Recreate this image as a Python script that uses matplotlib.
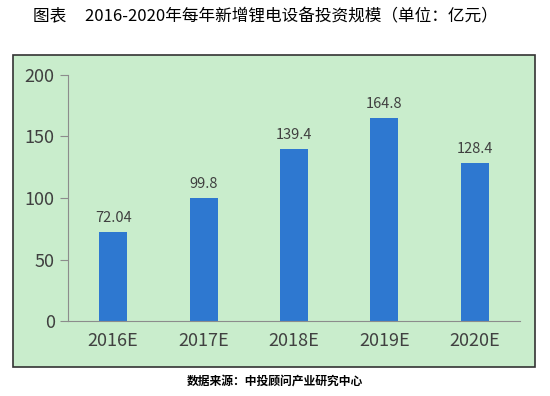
import matplotlib.pyplot as plt
from matplotlib.patches import Rectangle

plt.rcParams['font.family'] = ['Noto Sans CJK SC', 'DejaVu Sans']

years = ["2016E", "2017E", "2018E", "2019E", "2020E"]
values = [72.04, 99.8, 139.4, 164.8, 128.4]
labels = ["72.04", "99.8", "139.4", "164.8", "128.4"]

fig = plt.figure(figsize=(5.5, 3.96), dpi=100)
fig.patch.set_facecolor("white")

# green panel with dark frame
fig.patches.append(Rectangle((0.0236, 0.073), 0.949, 0.788, transform=fig.transFigure,
                             facecolor="#c9edcc", edgecolor="#333333", linewidth=1.2, zorder=-5))

ax = fig.add_axes([0.1236, 0.189, 0.822, 0.622])
ax.set_zorder(2)
ax.set_facecolor("none")
x = range(len(years))
ax.bar(x, values, width=0.31, color="#2e78d0", zorder=2)
for i, (v, t) in enumerate(zip(values, labels)):
    ax.text(i, v + 6, t, ha="center", va="bottom", fontsize=10.5, color="#404040")

ax.set_xlim(-0.5, len(years) - 0.5)
ax.set_ylim(0, 200)
ax.set_yticks([0, 50, 100, 150, 200])
ax.set_xticks(list(x))
ax.set_xticklabels(years)
for s in ["top", "right"]:
    ax.spines[s].set_visible(False)
for s in ["left", "bottom"]:
    ax.spines[s].set_color("#8c8c8c")
ax.tick_params(axis="y", colors="#8c8c8c", labelcolor="#404040", labelsize=13, length=6)
ax.tick_params(axis="x", length=0, labelcolor="#404040", labelsize=13, pad=8)

fig.text(0.06, 0.957, "图表     2016-2020年每年新增锂电设备投资规模（单位：亿元）",
         ha="left", va="center", fontsize=12, color="black")
fig.text(0.5, 0.037, "数据来源：中投顾问产业研究中心", ha="center", va="center",
         fontsize=8.5, color="black", fontweight="bold")

fig.savefig("out.png", dpi=100)
